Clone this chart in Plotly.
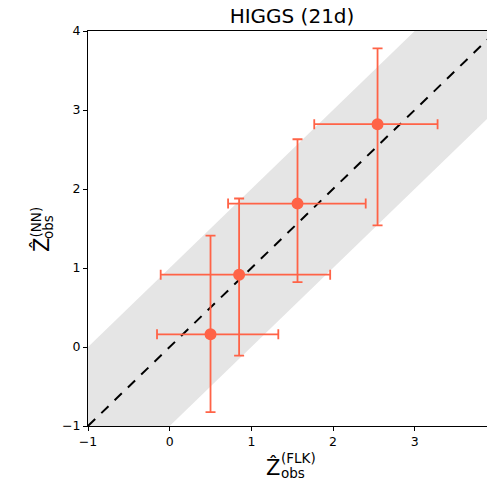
import numpy as np
import plotly.graph_objects as go

# Observed significance: FLK estimate vs neural-network estimate
z_flk = [0.50, 0.85, 1.565, 2.545]
z_flk_lo = [-0.155, -0.11, 0.715, 1.77]
z_flk_hi = [1.33, 1.965, 2.40, 3.28]

z_nn = [0.16, 0.915, 1.815, 2.82]
z_nn_lo = [-0.825, -0.11, 0.82, 1.54]
z_nn_hi = [1.41, 1.88, 2.63, 3.78]

diag = [-1.0, 4.0]
band_span = [-2.0, 5.0]
band_halfwidth = 1.0

x_range = [-1.0, 3.885]
y_range = [-1.0, 4.0]
ticks = [-1, 0, 1, 2, 3, 4]

COL = "#ff6347"
BAND = "#e5e5e5"

z_flk_a = np.array(z_flk)
z_nn_a = np.array(z_nn)

fig = go.Figure()

# shaded +-1 band around the identity line
bx = band_span + band_span[::-1]
by = [d - band_halfwidth for d in band_span] + [d + band_halfwidth for d in band_span[::-1]]
fig.add_trace(go.Scatter(x=bx, y=by, fill="toself", fillcolor=BAND, mode="none",
                         hoverinfo="skip", showlegend=False))

# identity line
fig.add_trace(go.Scatter(x=diag, y=diag, mode="lines",
                         line=dict(color="black", width=2, dash="10px,8.5px"),
                         showlegend=False))

fig.add_trace(go.Scatter(
    x=z_flk, y=z_nn, mode="markers",
    marker=dict(color=COL, size=12),
    error_x=dict(type="data", symmetric=False,
                 array=list(np.array(z_flk_hi) - z_flk_a),
                 arrayminus=list(z_flk_a - np.array(z_flk_lo)),
                 color=COL, thickness=1.8, width=5),
    error_y=dict(type="data", symmetric=False,
                 array=list(np.array(z_nn_hi) - z_nn_a),
                 arrayminus=list(z_nn_a - np.array(z_nn_lo)),
                 color=COL, thickness=1.8, width=5),
    showlegend=False,
))

L, R, T, B = 88, 0, 31, 57
W, H = 487, 483
pw, ph = W - L - R, H - T - B


def px(xp):
    return (xp - L) / pw


def py(yp):
    return (H - B - yp) / ph


font = "DejaVu Sans"
big = dict(size=21, family=font, color="black")
small = dict(size=13.5, family=font, color="black")
ann = []
# x-axis label
ann.append(dict(text="Ẑ", x=px(273), y=py(467), font=big))
ann.append(dict(text="(FLK)", x=px(298.5), y=py(458), font=small))
ann.append(dict(text="obs", x=px(292.5), y=py(472.5), font=small))
# y-axis label (rotated)
ann.append(dict(text="Ẑ", x=px(41), y=py(245), textangle=-90, font=big))
ann.append(dict(text="(NN)", x=px(35.5), y=py(222), textangle=-90, font=small))
ann.append(dict(text="obs", x=px(47.5), y=py(227.5), textangle=-90, font=small))
for a in ann:
    a.update(xref="paper", yref="paper", showarrow=False, xanchor="center", yanchor="middle")

axis_common = dict(showgrid=False, zeroline=False, showline=True, linecolor="black", linewidth=1,
                   ticks="outside", ticklen=4, tickwidth=1, tickcolor="black",
                   tickfont=dict(size=12.5, family=font, color="black"),
                   tickvals=ticks)

fig.update_layout(
    width=W, height=H,
    margin=dict(l=L, r=R, t=T, b=B),
    plot_bgcolor="white", paper_bgcolor="white",
    title=dict(text="HIGGS (21d)", x=px(292), xanchor="center", xref="paper",
               y=1 - 15.5 / H, yanchor="middle",
               font=dict(size=20, family=font, color="black")),
    xaxis=dict(range=x_range, mirror=True, **axis_common),
    yaxis=dict(range=y_range, **axis_common),
    annotations=ann,
)

fig.write_html("out.html")
